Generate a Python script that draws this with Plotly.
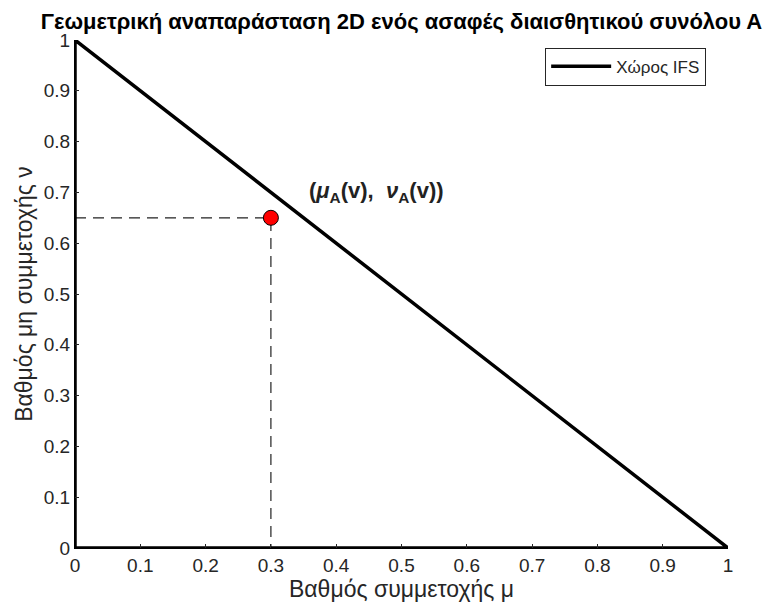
import plotly.graph_objects as go

# IFS space boundary: triangle with vertices (0,0), (1,0), (0,1)
ifs_mu = [0, 1, 0, 0]
ifs_nu = [0, 0, 1, 0]

# Element of the intuitionistic fuzzy set A
point_mu = [0.3]
point_nu = [0.65]

tick_vals = [0, 0.1, 0.2, 0.3, 0.4, 0.5, 0.6, 0.7, 0.8, 0.9, 1]
tick_text = ["0", "0.1", "0.2", "0.3", "0.4", "0.5", "0.6", "0.7", "0.8", "0.9", "1"]

FONT = "Liberation Sans, Arial, sans-serif"
TICK_COLOR = "#262626"

fig = go.Figure()

# Dashed projections onto the axes
fig.add_trace(go.Scatter(
    x=[0, point_mu[0], point_mu[0]],
    y=[point_nu[0], point_nu[0], 0],
    mode="lines",
    line=dict(color="#222222", width=1.2, dash="11px,7px"),
    showlegend=False, hoverinfo="skip", cliponaxis=False,
))

fig.add_trace(go.Scatter(
    x=ifs_mu, y=ifs_nu,
    mode="lines",
    name="Χώρος IFS",
    line=dict(color="black", width=3.5),
    cliponaxis=False,
))

fig.add_trace(go.Scatter(
    x=point_mu, y=point_nu,
    mode="markers",
    marker=dict(color="red", size=15, line=dict(color="black", width=1)),
    showlegend=False, cliponaxis=False,
))

fig.add_annotation(
    x=0.355, y=0.70, xref="x", yref="y",
    text="<b>(<i>μ</i><sub>A</sub>(v),  <i>ν</i><sub>A</sub>(v))</b>",
    showarrow=False, xanchor="left", yanchor="middle",
    font=dict(family=FONT, size=22, color="#222222"),
)

axis_common = dict(
    range=[0, 1],
    tickvals=tick_vals,
    ticktext=tick_text,
    ticks="inside",
    ticklen=4,
    tickwidth=1,
    tickcolor=TICK_COLOR,
    showgrid=False,
    zeroline=False,
    showline=True,
    linecolor="black",
    linewidth=1,
    tickfont=dict(family=FONT, size=19, color=TICK_COLOR),
    fixedrange=True,
)

fig.update_xaxes(
    **axis_common,
    title=dict(text="Βαθμός συμμετοχής μ", font=dict(family=FONT, size=23, color=TICK_COLOR), standoff=6),
)
fig.update_yaxes(
    **axis_common,
    title=dict(text="Βαθμός μη συμμετοχής ν", font=dict(family=FONT, size=23, color=TICK_COLOR), standoff=4),
)

fig.update_layout(
    width=772, height=610,
    margin=dict(l=75, r=44, t=40, b=59),
    plot_bgcolor="white", paper_bgcolor="white",
    title=dict(
        text="<b>Γεωμετρική αναπαράσταση 2D ενός ασαφές διαισθητικού συνόλου Α</b>",
        x=0.5, xref="paper", xanchor="center",
        y=1, yref="paper", yanchor="bottom", pad=dict(b=11),
        font=dict(family=FONT, size=22, color="black"),
    ),
    legend=dict(
        x=0.72, y=0.985, xanchor="left", yanchor="top",
        bgcolor="white", bordercolor="#262626", borderwidth=1,
        font=dict(family=FONT, size=17, color=TICK_COLOR),
        itemwidth=60,
    ),
)

fig.write_html("out.html")
